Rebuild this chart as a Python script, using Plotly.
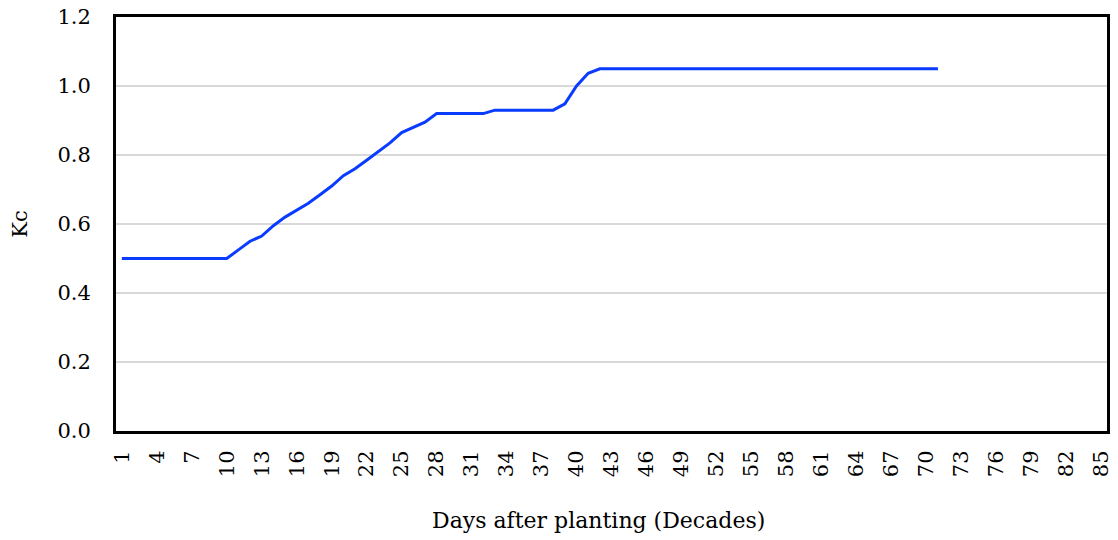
import plotly.graph_objects as go

days = list(range(1, 72))
kc = ([0.50] * 10 +
      [0.525, 0.55, 0.565, 0.595, 0.62, 0.64, 0.66, 0.685, 0.71, 0.74,
       0.76, 0.785, 0.81, 0.835, 0.865, 0.88, 0.895, 0.92,
       0.92, 0.92, 0.92, 0.92, 0.93, 0.93, 0.93, 0.93, 0.93, 0.93,
       0.948, 1.0, 1.037] +
      [1.05] * 30)
x_ticks = list(range(1, 86, 3))
y_ticks = [0.0, 0.2, 0.4, 0.6, 0.8, 1.0, 1.2]

FONT = "DejaVu Serif"

fig = go.Figure()
fig.add_trace(go.Scatter(x=days, y=kc, mode="lines",
                         line=dict(color="#0a3cff", width=3), showlegend=False))

fig.update_layout(
    width=1118, height=540,
    margin=dict(l=116, r=11, t=17, b=109, autoexpand=False),
    paper_bgcolor="white", plot_bgcolor="white",
    font=dict(family=FONT, size=21, color="black"),
    xaxis=dict(range=[0.5, 85.5], tickvals=x_ticks, ticktext=[str(v) for v in x_ticks],
               tickangle=-90, showgrid=False, zeroline=False, automargin=False,
               showline=True, linecolor="black", linewidth=3, mirror=True,
               ticks="", ticklabelstandoff=8),
    yaxis=dict(range=[0, 1.2], tickvals=y_ticks, ticktext=[f"{v:.1f}" for v in y_ticks],
               showgrid=True, gridcolor="#d9d9d9", gridwidth=2, zeroline=False,
               automargin=False,
               showline=True, linecolor="black", linewidth=3, mirror=True,
               ticks="", ticklabelstandoff=18,
               title=dict(text="Kc", standoff=25, font=dict(size=21))),
    annotations=[dict(text="Days after planting (Decades)", xref="paper", yref="paper",
                      x=0.487, y=-0.215, xanchor="center", yanchor="middle",
                      showarrow=False, font=dict(size=22))],
)

fig.write_html("out.html", config={"displayModeBar": False},
               post_script="document.body.style.margin='0';")
